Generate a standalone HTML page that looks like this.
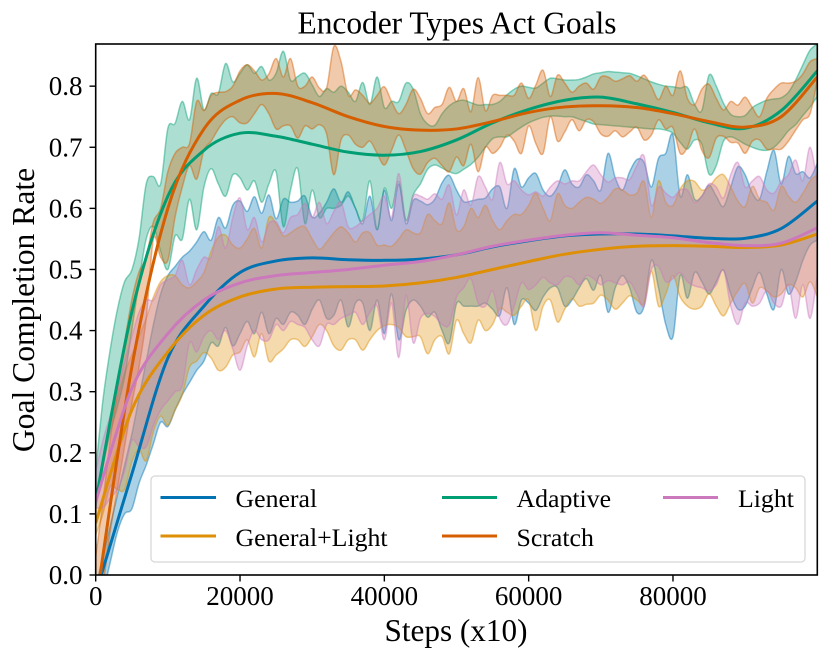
<!DOCTYPE html>
<html>
<head>
<meta charset="utf-8">
<style>
html,body{margin:0;padding:0;background:#fff;}
svg{display:block;}
text{font-family:"Liberation Serif",serif;fill:#000;}
</style>
</head>
<body>
<svg id="chart" xmlns="http://www.w3.org/2000/svg" width="830" height="660" viewBox="0 0 830 660">
<defs><clipPath id="plot-clip"><rect x="95.7" y="44" width="721.6" height="531"/></clipPath></defs>
<text x="457" y="33.5" font-size="31.4" text-anchor="middle">Encoder Types Act Goals</text>
<g id="marks" clip-path="url(#plot-clip)"></g>
<rect x="95.7" y="44" width="721.6" height="531" fill="none" stroke="#000" stroke-width="1.6"/>
<g id="ticks"></g>
<text x="456" y="641" font-size="31.2" text-anchor="middle">Steps (x10)</text>
<text transform="translate(34,310) rotate(-90)" font-size="31.6" text-anchor="middle">Goal Completion Rate</text>
<g>
<rect x="151" y="476" width="654" height="86" rx="4" fill="#fff" fill-opacity="0.85" stroke="#d8d8d8" stroke-width="1.3"/>
<g><line x1="160.5" y1="497.5" x2="216" y2="497.5" stroke="#0173b2" stroke-width="3"/><text x="235.5" y="507" font-size="25.8">General</text></g>
<g><line x1="160.5" y1="536" x2="216" y2="536" stroke="#de8f05" stroke-width="3"/><text x="235.5" y="546" font-size="25.8">General+Light</text></g>
<g><line x1="442" y1="497.5" x2="497" y2="497.5" stroke="#029e73" stroke-width="3"/><text x="516.5" y="507" font-size="25.8">Adaptive</text></g>
<g><line x1="442" y1="536" x2="497" y2="536" stroke="#d55e00" stroke-width="3"/><text x="516.5" y="546" font-size="25.8">Scratch</text></g>
<g><line x1="663" y1="497.5" x2="718" y2="497.5" stroke="#cc78bc" stroke-width="3"/><text x="738" y="507" font-size="25.8">Light</text></g>
</g>
</svg>
<script>
const bandStep = 1000;
const meanStep = 5000;
const xTickValues = [0, 20000, 40000, 60000, 80000];
const yTickValues = [0.0, 0.1, 0.2, 0.3, 0.4, 0.5, 0.6, 0.7, 0.8];

const generalMean = [-0.03,.165,.355,.44,.495,.514,.519,.516,.515,.517,.524,.537,.547,.555,.558,.558,.555,.551,.551,.567,.612];
const generalLightMean = [.085,.27,.365,.425,.455,.468,.471,.472,.473,.478,.487,.5,.513,.525,.533,.538,.539,.538,.536,.54,.558];
const adaptiveMean = [.12,.43,.62,.695,.723,.718,.705,.692,.687,.693,.712,.74,.762,.777,.782,.771,.757,.74,.731,.76,.825];
const scratchMean = [-.05,.34,.6,.73,.777,.788,.773,.75,.734,.728,.73,.742,.757,.766,.768,.765,.755,.742,.733,.75,.815];
const lightMean = [.12,.305,.395,.45,.478,.49,.495,.5,.507,.513,.524,.538,.548,.556,.56,.556,.552,.544,.539,.543,.568];

const generalUpper = [
-.02,.03,.08,.13,.18,.23,.29,.35,.41,.46,
.49,.505,.52,.53,.545,.562,.548,.585,.568,.605,
.612,.595,.619,.592,.622,.583,.615,.61,.612,.62,
.586,.592,.61,.632,.61,.627,.6,.575,.62,.565,
.63,.58,.64,.575,.613,.612,.606,.615,.642,.654,
.63,.611,.612,.615,.617,.632,.635,.6,.665,.635,
.65,.657,.63,.62,.635,.663,.64,.635,.655,.645,
.63,.69,.65,.63,.66,.68,.675,.635,.682,.69,
.72,.62,.655,.615,.62,.638,.62,.603,.635,.668,
.655,.625,.615,.66,.695,.64,.685,.657,.66,.65,
.674];
const generalLower = [
-.07,-.03,.02,.07,.1,.108,.15,.18,.215,.25,
.243,.27,.295,.315,.335,.35,.38,.375,.405,.375,
.395,.415,.395,.43,.395,.42,.41,.43,.425,.41,
.435,.45,.42,.425,.45,.406,.445,.445,.4,.45,
.395,.46,.385,.433,.45,.44,.422,.43,.4,.38,
.444,.44,.44,.44,.445,.435,.425,.47,.41,.45,
.445,.433,.455,.47,.47,.44,.45,.47,.485,.466,
.49,.43,.47,.49,.47,.43,.44,.515,.47,.41,
.39,.49,.453,.495,.48,.46,.48,.499,.46,.435,
.44,.47,.495,.46,.435,.5,.46,.48,.515,.54,
.548];

const generalLightUpper = [
.12,.18,.24,.29,.33,.36,.39,.42,.455,.48,
.49,.49,.475,.47,.48,.495,.53,.553,.556,.54,
.535,.55,.567,.535,.585,.575,.555,.56,.568,.57,
.55,.533,.545,.56,.57,.56,.545,.56,.56,.54,
.54,.538,.55,.565,.56,.56,.59,.58,.575,.609,
.565,.57,.6,.585,.605,.58,.565,.58,.59,.59,
.605,.625,.6,.58,.624,.605,.6,.61,.618,.615,
.608,.618,.632,.63,.622,.625,.644,.585,.645,.61,
.605,.632,.645,.644,.63,.635,.65,.655,.635,.612,
.603,.636,.615,.61,.597,.636,.62,.61,.625,.645,
.655];
const generalLightLower = [
.065,.1,.145,.14,.14,.185,.205,.187,.235,.26,
.245,.27,.295,.34,.35,.364,.355,.335,.34,.36,
.365,.385,.357,.395,.35,.36,.37,.385,.385,.374,
.39,.41,.4,.375,.368,.385,.385,.368,.385,.4,
.408,.41,.405,.39,.39,.39,.362,.385,.39,.362,
.417,.395,.38,.417,.4,.41,.436,.43,.425,.44,
.45,.4,.44,.45,.414,.435,.452,.44,.443,.445,
.458,.45,.435,.445,.457,.45,.445,.497,.44,.46,
.49,.455,.44,.435,.44,.46,.44,.424,.445,.465,
.477,.445,.47,.465,.455,.46,.475,.47,.455,.48,
.455];

const adaptiveUpper = [
.17,.286,.368,.434,.48,.499,.55,.64,.652,.64,
.731,.739,.775,.745,.813,.761,.788,.788,.837,.807,
.821,.835,.821,.832,.81,.821,.857,.81,.816,.821,
.802,.783,.796,.79,.8,.79,.775,.806,.77,.815,
.765,.775,.775,.805,.795,.755,.738,.736,.755,.768,
.775,.777,.773,.769,.77,.77,.775,.786,.795,.8,
.798,.797,.805,.813,.812,.81,.81,.811,.815,.82,
.822,.824,.823,.822,.821,.817,.812,.807,.803,.8,
.799,.797,.798,.77,.76,.818,.8,.772,.754,.75,
.752,.765,.772,.777,.779,.781,.79,.81,.835,.859,
.869];
const adaptiveLower = [
.11,.177,.232,.275,.324,.4,.48,.55,.57,.53,
.5,.555,.55,.615,.565,.635,.665,.64,.62,.655,
.65,.63,.645,.61,.64,.66,.57,.63,.665,.575,
.63,.585,.6,.6,.605,.62,.6,.58,.645,.565,
.633,.6,.644,.58,.622,.64,.664,.671,.666,.66,
.657,.664,.672,.684,.7,.714,.717,.717,.725,.733,
.74,.745,.749,.751,.751,.75,.75,.746,.742,.738,
.737,.736,.735,.734,.733,.732,.731,.73,.73,.728,
.723,.708,.697,.712,.705,.656,.67,.71,.717,.712,
.705,.7,.696,.695,.7,.712,.727,.737,.752,.766,
.783];

const scratchUpper = [
.03,.12,.22,.3,.38,.45,.496,.52,.578,.6,
.66,.69,.7,.706,.775,.76,.785,.79,.791,.8,
.825,.835,.825,.81,.82,.845,.815,.845,.8,.8,
.815,.797,.797,.865,.84,.785,.794,.785,.772,.785,
.799,.775,.755,.77,.795,.78,.755,.765,.77,.798,
.775,.796,.758,.814,.76,.785,.785,.785,.785,.805,
.78,.802,.826,.783,.818,.805,.79,.8,.805,.795,
.815,.815,.808,.812,.817,.808,.818,.8,.778,.8,
.785,.825,.78,.77,.795,.803,.78,.761,.775,.769,
.782,.765,.75,.78,.795,.805,.805,.808,.82,.84,
.845];
const scratchLower = [
-.1,-.02,.07,.14,.21,.28,.34,.42,.55,.52,
.515,.586,.635,.67,.648,.695,.71,.73,.745,.75,
.74,.74,.755,.77,.755,.73,.735,.735,.715,.735,
.73,.737,.722,.655,.712,.72,.705,.7,.71,.69,
.671,.695,.72,.695,.665,.656,.675,.682,.67,.66,
.684,.67,.705,.66,.7,.69,.7,.72,.71,.69,
.735,.706,.69,.75,.71,.725,.745,.727,.745,.742,
.722,.718,.727,.717,.725,.733,.712,.72,.745,.73,
.732,.69,.7,.73,.695,.683,.715,.718,.708,.707,
.69,.71,.712,.697,.697,.697,.71,.728,.745,.755,
.81];

const lightUpper = [
.17,.22,.26,.3,.35,.39,.43,.45,.45,.475,
.483,.49,.515,.475,.5,.52,.52,.57,.535,.585,
.617,.565,.585,.545,.575,.578,.56,.585,.59,.608,
.585,.61,.575,.595,.61,.57,.57,.58,.59,.6,
.62,.585,.657,.58,.62,.62,.615,.624,.615,.638,
.589,.63,.605,.652,.635,.615,.675,.64,.645,.63,
.622,.627,.62,.635,.645,.64,.645,.645,.66,.671,
.655,.643,.65,.65,.647,.67,.685,.605,.635,.625,
.618,.63,.63,.61,.62,.64,.635,.617,.655,.675,
.635,.645,.652,.63,.625,.644,.655,.679,.645,.7,
.64];
const lightLower = [
.11,.11,.125,.14,.17,.22,.21,.21,.245,.27,
.285,.3,.31,.38,.365,.39,.4,.385,.4,.37,
.335,.375,.4,.385,.385,.41,.4,.415,.41,.405,
.385,.375,.41,.41,.42,.425,.43,.41,.43,.44,
.385,.445,.356,.458,.38,.42,.428,.423,.41,.41,
.455,.47,.485,.445,.44,.465,.42,.41,.44,.478,
.467,.475,.487,.478,.475,.488,.487,.475,.49,.485,
.475,.482,.478,.475,.48,.46,.44,.5,.505,.48,
.485,.495,.48,.473,.47,.465,.475,.499,.44,.41,
.445,.44,.445,.465,.445,.44,.475,.42,.475,.42,
.49];

const xPlotLeft = 95.7, xPlotWidth = 721.6, xDomainMax = 100000;
const yPlotBottom = 575, yPlotHeight = 531, yDomainMax = 0.869;
function xScale(step){ return xPlotLeft + step / xDomainMax * xPlotWidth; }
function yScale(v){ return yPlotBottom - v / yDomainMax * yPlotHeight; }

function toPoints(values, stepSize){
  return values.map(function(v, i){ return [xScale(i * stepSize), yScale(v)]; });
}
// Catmull-Rom spline; returns only the segment commands after the first point.
function splineSegments(p){
  let d = '';
  for (let i = 0; i < p.length - 1; i++){
    const p0 = p[Math.max(i - 1, 0)], p1 = p[i], p2 = p[i + 1], p3 = p[Math.min(i + 2, p.length - 1)];
    const c1x = p1[0] + (p2[0] - p0[0]) / 6, c1y = p1[1] + (p2[1] - p0[1]) / 6;
    const c2x = p2[0] - (p3[0] - p1[0]) / 6, c2y = p2[1] - (p3[1] - p1[1]) / 6;
    d += 'C' + c1x.toFixed(2) + ' ' + c1y.toFixed(2) + ' ' + c2x.toFixed(2) + ' ' + c2y.toFixed(2) + ' ' + p2[0].toFixed(2) + ' ' + p2[1].toFixed(2);
  }
  return d;
}
function linePath(p){ return 'M' + p[0][0].toFixed(2) + ' ' + p[0][1].toFixed(2) + splineSegments(p); }
function bandPath(up, low){
  const rev = low.slice().reverse();
  return linePath(up) + 'L' + rev[0][0].toFixed(2) + ' ' + rev[0][1].toFixed(2) + splineSegments(rev) + 'Z';
}

const NS = 'http://www.w3.org/2000/svg';
const marks = document.getElementById('marks');
const ticks = document.getElementById('ticks');

function addBand(upper, lower, color, name){
  const el = document.createElementNS(NS, 'path');
  
  
  el.setAttribute('d', bandPath(toPoints(upper, bandStep), toPoints(lower, bandStep)));
  el.setAttribute('fill', color);
  el.setAttribute('fill-opacity', '0.33');
  el.setAttribute('stroke', color);
  el.setAttribute('stroke-opacity', '0.45');
  el.setAttribute('stroke-width', '1.5');
  marks.appendChild(el);
}
function addLine(values, color, name){
  const el = document.createElementNS(NS, 'path');
  
  
  el.setAttribute('d', linePath(toPoints(values, meanStep)));
  el.setAttribute('fill', 'none');
  el.setAttribute('stroke', color);
  el.setAttribute('stroke-width', '3');
  marks.appendChild(el);
}

addBand(generalUpper, generalLower, '#0173b2', 'general');
addBand(generalLightUpper, generalLightLower, '#de8f05', 'general-light');
addBand(adaptiveUpper, adaptiveLower, '#029e73', 'adaptive');
addBand(scratchUpper, scratchLower, '#d55e00', 'scratch');
addBand(lightUpper, lightLower, '#cc78bc', 'light');
addLine(generalMean, '#0173b2', 'general');
addLine(generalLightMean, '#de8f05', 'general-light');
addLine(adaptiveMean, '#029e73', 'adaptive');
addLine(scratchMean, '#d55e00', 'scratch');
addLine(lightMean, '#cc78bc', 'light');

xTickValues.forEach(function(v){
  const x = xScale(v);
  const t = document.createElementNS(NS, 'line');
  
  
  t.setAttribute('x1', x); t.setAttribute('x2', x);
  t.setAttribute('y1', 575); t.setAttribute('y2', 581.5);
  t.setAttribute('stroke', '#000'); t.setAttribute('stroke-width', '1.4');
  ticks.appendChild(t);
  const l = document.createElementNS(NS, 'text');
  
  
  l.setAttribute('x', x); l.setAttribute('y', 605);
  l.setAttribute('font-size', '27');
  l.setAttribute('text-anchor', 'middle');
  l.textContent = String(v);
  ticks.appendChild(l);
});
yTickValues.forEach(function(v){
  const y = yScale(v);
  const t = document.createElementNS(NS, 'line');
  
  
  t.setAttribute('x1', 89.5); t.setAttribute('x2', 95.7);
  t.setAttribute('y1', y); t.setAttribute('y2', y);
  t.setAttribute('stroke', '#000'); t.setAttribute('stroke-width', '1.4');
  ticks.appendChild(t);
  const l = document.createElementNS(NS, 'text');
  
  
  l.setAttribute('x', 82.5); l.setAttribute('y', y + 9);
  l.setAttribute('font-size', '27');
  l.setAttribute('text-anchor', 'end');
  l.textContent = v.toFixed(1);
  ticks.appendChild(l);
});
</script>
</body>
</html>
